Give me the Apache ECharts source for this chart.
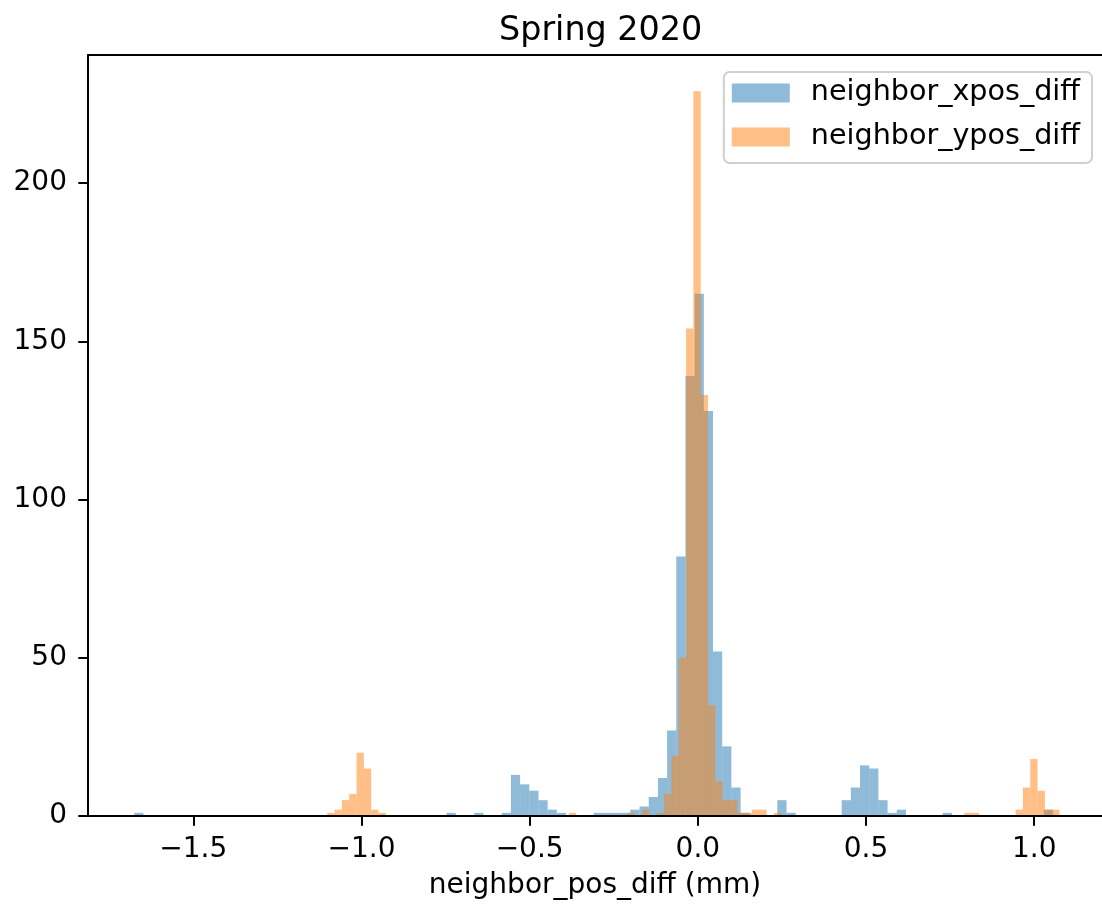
<!DOCTYPE html>
<html>
<head>
<meta charset="utf-8">
<script src="https://cdn.jsdelivr.net/npm/echarts@6/dist/echarts.min.js"></script>
<style>
html,body{margin:0;padding:0;background:#ffffff;}
#chart{width:1102px;height:906px;}
</style>
</head>
<body>
<div id="chart"></div>
<script>
// ---- data ----
const chartTitle = 'Spring 2020';
const xAxisName = 'neighbor_pos_diff (mm)';
const seriesNames = ['neighbor_xpos_diff', 'neighbor_ypos_diff'];

// histogram ranges (100 bins each)
const xposRange = [-1.6754, 1.0556];
const yposRange = [-1.1017, 1.0752];

const xposCounts = [
  1,0,0,0,0,0,0,0,0,0,
  0,0,0,0,0,0,0,0,0,0,
  0,0,0,0,0,0,0,0,0,0,
  0,0,0,0,1,0,0,1,0,0,
  1,13,10,8,5,2,1,0,0,0,
  1,1,1,1,2,3,6,12,27,82,
  139,165,128,52,22,9,1,0,0,0,
  5,1,0,0,0,0,0,5,9,16,
  15,5,1,2,0,0,0,0,1,0,
  0,0,0,0,0,0,0,0,0,2
];

const yposCounts = [
  1,2,5,7,20,15,2,1,0,0,
  0,0,0,0,0,0,0,0,0,0,
  0,0,0,0,0,0,0,0,0,0,
  0,0,0,1,0,0,0,0,0,0,
  0,1,0,2,0,1,7,19,50,154,
  229,133,35,11,5,5,1,1,2,2,
  0,1,0,0,0,0,0,0,0,0,
  0,0,0,0,0,0,0,0,0,0,
  0,0,0,0,0,0,0,1,1,0,
  0,0,0,0,2,9,18,8,2,2
];

const xTicks = [-1.5, -1.0, -0.5, 0.0, 0.5, 1.0];
const yTicks = [0, 50, 100, 150, 200];
const xLimits = [-1.8129, 1.2014];
const yLimits = [0, 240.45];

// ---- build histogram rectangles data [binStart, binEnd, count] ----
function histData(range, counts) {
  const n = counts.length;
  const w = (range[1] - range[0]) / n;
  const out = [];
  for (let i = 0; i < n; i++) {
    if (counts[i] > 0) out.push([range[0] + i * w, range[0] + (i + 1) * w, counts[i]]);
  }
  return out;
}

function renderBar(params, api) {
  const p0 = api.coord([api.value(0), api.value(2)]);
  const p1 = api.coord([api.value(1), 0]);
  return {
    type: 'rect',
    shape: { x: p0[0], y: p0[1], width: p1[0] - p0[0], height: p1[1] - p0[1] },
    style: { fill: api.visual('color') }
  };
}

const FONT = 'DejaVu Sans';
const fmtX = v => (v < 0 ? '\u2212' : '') + Math.abs(v).toFixed(1);
const spine = { color: '#000', width: 2 };

const chart = echarts.init(document.getElementById('chart'), null, { renderer: 'canvas' });
chart.setOption({
  animation: false,
  backgroundColor: '#ffffff',
  title: {
    text: chartTitle,
    left: 494,
    top: 10,
    textStyle: { fontFamily: FONT, fontSize: 33.4, fontWeight: 'normal', color: '#000' }
  },
  legend: {
    orient: 'vertical',
    right: 10,
    top: 72,
    icon: 'rect',
    itemWidth: 58,
    itemHeight: 19,
    itemGap: 14,
    padding: [6, 12, 11, 8],
    backgroundColor: 'rgba(255,255,255,0.8)',
    borderColor: '#d0d0d0',
    borderWidth: 2,
    borderRadius: 6,
    selectedMode: false,
    textStyle: { fontFamily: FONT, fontSize: 28.6, color: '#000', lineHeight: 30, padding: [0, 0, 0, 16] },
    data: seriesNames
  },
  grid: {
    left: 88, right: 0, top: 55, bottom: 90,
    show: false,
    containLabel: false, outerBoundsMode: 'none'
  },
  xAxis: [
    {
      type: 'value',
      min: xLimits[0], max: xLimits[1],
      z: 10,
      name: xAxisName,
      nameLocation: 'middle',
      nameGap: 56,
      nameMoveOverlap: false,
      nameTextStyle: { fontFamily: FONT, fontSize: 28, color: '#000' },
      axisLine: { show: true, onZero: false, lineStyle: spine },
      axisTick: { show: true, customValues: xTicks, length: 9.7, lineStyle: spine },
      axisLabel: { customValues: xTicks, formatter: fmtX, fontFamily: FONT, fontSize: 28, color: '#000', margin: 20 },
      splitLine: { show: false }
    },
    {
      type: 'value',
      position: 'top',
      min: xLimits[0], max: xLimits[1],
      z: 10,
      axisLine: { show: true, onZero: false, lineStyle: spine },
      axisTick: { show: false },
      axisLabel: { show: false },
      splitLine: { show: false }
    }
  ],
  yAxis: {
    type: 'value',
    min: yLimits[0], max: yLimits[1],
    z: 10,
    axisLine: { show: true, onZero: false, lineStyle: spine },
    axisTick: { show: true, customValues: yTicks, length: 9.7, lineStyle: spine },
    axisLabel: { customValues: yTicks, fontFamily: FONT, fontSize: 28, color: '#000', margin: 21 },
    splitLine: { show: false }
  },
  series: [
    {
      name: seriesNames[0],
      type: 'custom',
      renderItem: renderBar,
      encode: { x: [0, 1], y: 2 },
      itemStyle: { color: 'rgba(31,119,180,0.5)' },
      data: histData(xposRange, xposCounts),
      z: 2
    },
    {
      name: seriesNames[1],
      type: 'custom',
      renderItem: renderBar,
      encode: { x: [0, 1], y: 2 },
      itemStyle: { color: 'rgba(255,127,14,0.5)' },
      data: histData(yposRange, yposCounts),
      z: 3
    }
  ]
});
</script>
</body>
</html>
